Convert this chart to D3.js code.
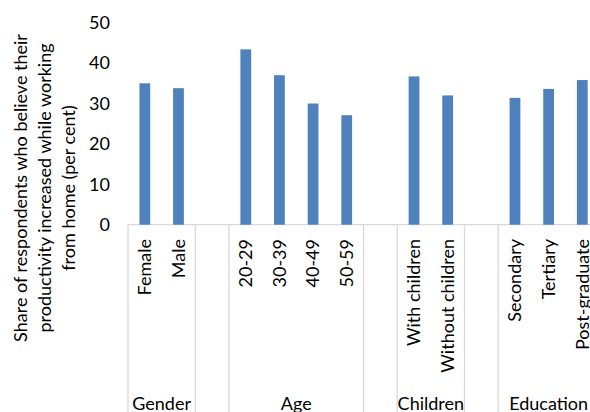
<!DOCTYPE html>
<html><head><meta charset="utf-8">
<script src="https://cdn.jsdelivr.net/npm/d3@7"></script>
<style>
html,body{margin:0;padding:0;background:#fff;}
svg{display:block;font-family:Lato,"Open Sans",sans-serif;}
</style></head>
<body>
<svg id="c" width="590" height="412"></svg>
<script>
const groups = ["Gender", "Age", "Children", "Education"];
const categories = ["Female", "Male", "20-29", "30-39", "40-49", "50-59", "With children", "Without children", "Secondary", "Tertiary", "Post-graduate"];
const categoryGroup = ["Gender", "Gender", "Age", "Age", "Age", "Age", "Children", "Children", "Education", "Education", "Education"];
const values = [35.0, 33.8, 43.4, 37.0, 30.0, 27.1, 36.7, 32.0, 31.4, 33.6, 35.8];
const yTicks = [0, 10, 20, 30, 40, 50];
const yTitle = ["Share of respondents who believe their", "productivity increased while working", "from home (per cent)"];

// build slots: blank slot between groups
const slots = [];
groups.forEach((g, gi) => {
  if (gi > 0) slots.push({key: "blank" + gi, label: "", group: null});
  categories.forEach((c, i) => {
    if (categoryGroup[i] === g) slots.push({key: c, label: c, group: g, value: values[i]});
  });
});

const svg = d3.select("#c");
const x0 = 128, step = 33.65;
const p = 0.68;
const x = d3.scaleBand().domain(slots.map(d => d.key))
  .range([x0, x0 + step * slots.length]).paddingInner(p).paddingOuter(p / 2);
const y = d3.scaleLinear().domain([0, 50]).range([224.7, 22.7]);
const slotStart = k => x(k) - x.step() * p / 2;
const slotEnd = k => slotStart(k) + x.step();

const fs = 18;
const lineColor = "#d9d9d9";

// y axis
const ya = svg.append("g").attr("transform", "translate(110,0)")
  .call(d3.axisLeft(y).tickValues(yTicks).tickSize(0).tickPadding(0));
ya.select(".domain").remove();
ya.selectAll("text").attr("font-size", fs).attr("font-family", "Lato, sans-serif").attr("fill", "#000");

// separator lines
const seps = [];
groups.forEach(g => {
  const s = slots.filter(d => d.group === g);
  seps.push(slotStart(s[0].key));
  seps.push(slotEnd(s[s.length - 1].key));
});
svg.append("g").selectAll("line").data(seps).join("line")
  .attr("x1", d => d).attr("x2", d => d)
  .attr("y1", y(0)).attr("y2", 412)
  .attr("stroke", lineColor).attr("stroke-width", 1.3);

// x axis line
svg.append("line").attr("x1", x0).attr("x2", 600).attr("y1", y(0)).attr("y2", y(0))
  .attr("stroke", lineColor).attr("stroke-width", 1.3);

// bars
svg.append("g").selectAll("rect").data(slots.filter(d => d.group)).join("rect")
  .attr("x", d => x(d.key)).attr("width", x.bandwidth())
  .attr("y", d => y(d.value)).attr("height", d => y(0) - y(d.value))
  .attr("fill", "#4f81bd");

// category labels
svg.append("g").selectAll("text").data(slots.filter(d => d.group)).join("text")
  .attr("transform", d => `translate(${x(d.key) + x.bandwidth() / 2},239) rotate(-90)`)
  .attr("text-anchor", "end").attr("dy", "0.35em")
  .attr("font-size", fs).attr("fill", "#000").text(d => d.label);

// group labels
svg.append("g").selectAll("text").data(groups).join("text")
  .attr("x", g => {
    const s = slots.filter(d => d.group === g);
    return (slotStart(s[0].key) + slotEnd(s[s.length - 1].key)) / 2;
  })
  .attr("y", 410).attr("text-anchor", "middle")
  .attr("font-size", fs).attr("fill", "#000").text(g => g);

// y title
const t = svg.append("text").attr("transform", "translate(27,188) rotate(-90)")
  .attr("text-anchor", "middle").attr("font-size", fs).attr("fill", "#000");
t.selectAll("tspan").data(yTitle).join("tspan")
  .attr("x", 0).attr("dy", (d, i) => i === 0 ? 0 : 24).text(d => d);
</script>
</body></html>
